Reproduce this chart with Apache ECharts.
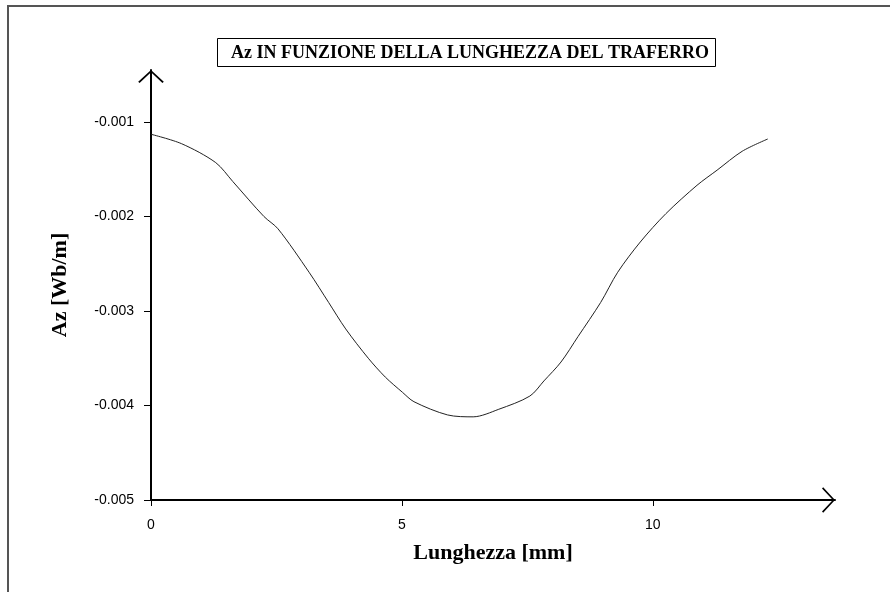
<!DOCTYPE html>
<html lang="it">
<head>
    <meta charset="UTF-8">
    <title>Az in funzione della lunghezza del traferro</title>
    <style>
        html, body { margin: 0; padding: 0; background: #fff; }
    </style>
</head>
<body>
<div id="main" style="width:890px;height:592px"></div>
<script src="https://cdn.jsdelivr.net/npm/echarts@6/dist/echarts.min.js"></script>
<script>
    // lunghezza [mm] e potenziale vettore Az [Wb/m]
    var lunghezza = [0, 0.61, 1.29, 1.63, 2.25, 2.53, 3.15, 3.54, 3.88, 4.33, 4.67, 5.01, 5.24,
        5.91, 6.42, 6.93, 7.55, 7.83, 8.17, 8.51, 8.96, 9.30, 9.75, 10.26, 10.88, 11.28, 11.78, 12.29];
    var az = [-0.00113, -0.00123, -0.00143, -0.00163, -0.00200, -0.00213, -0.00259, -0.00291,
        -0.00319, -0.00350, -0.00370, -0.00386, -0.00396, -0.00410, -0.00412, -0.00404,
        -0.00390, -0.00374, -0.00354, -0.00327, -0.00291, -0.00259, -0.00227, -0.00197,
        -0.00167, -0.00151, -0.00131, -0.00118];
    var xTicks = [0, 5, 10];
    var yTicks = [-0.005, -0.004, -0.003, -0.002, -0.001];

    var punti = [];
    for (var i = 0; i < lunghezza.length; i++) {
        punti.push([lunghezza[i], az[i]]);
    }

    // freccia aperta (a V) usata come simbolo di fine asse
    var freccia = 'path://M13,0 L26,12 L24.6,13.2 L13,2.2 L1.4,13.2 L0,12 Z';

    var myChart = echarts.init(document.getElementById('main'));
    myChart.setOption({
        backgroundColor: '#fff',
        animation: false,
        title: {
            text: 'Az IN FUNZIONE DELLA LUNGHEZZA DEL TRAFERRO',
            left: 217,
            top: 38,
            padding: [6, 7, 5, 14],
            borderColor: '#000',
            borderWidth: 1,
            textStyle: {
                fontFamily: 'Liberation Serif',
                fontSize: 18,
                fontWeight: 'bold',
                color: '#000'
            }
        },
        graphic: [{
            type: 'polyline',
            shape: { points: [[8, 600], [8, 6], [900, 6]] },
            style: { stroke: '#555', lineWidth: 2, fill: null },
            silent: true
        }],
        grid: {
            left: 151,
            top: 70,
            right: 55,
            bottom: 92
        },
        xAxis: {
            type: 'value',
            min: 0,
            max: 13.63,
            name: 'Lunghezza [mm]',
            nameLocation: 'middle',
            nameGap: 42,
            nameTextStyle: {
                fontFamily: 'Liberation Serif',
                fontSize: 22,
                fontWeight: 'bold',
                color: '#000'
            },
            axisLine: {
                onZero: false,
                symbol: ['none', freccia],
                symbolSize: [26, 13],
                symbolOffset: [0, -6.5],
                lineStyle: { color: '#000', width: 2 }
            },
            axisTick: {
                customValues: xTicks,
                length: 6,
                lineStyle: { color: '#000', width: 1 }
            },
            axisLabel: {
                customValues: xTicks,
                margin: 18,
                fontFamily: 'Liberation Sans',
                fontSize: 14,
                color: '#000'
            },
            splitLine: { show: false }
        },
        yAxis: {
            type: 'value',
            min: -0.005,
            max: -0.00045,
            name: 'Az [Wb/m]',
            nameLocation: 'middle',
            nameRotate: 90,
            nameGap: 80,
            nameTextStyle: {
                fontFamily: 'Liberation Serif',
                fontSize: 22,
                fontWeight: 'bold',
                color: '#000'
            },
            axisLine: {
                onZero: false,
                symbol: ['none', freccia],
                symbolSize: [26, 13],
                symbolOffset: [0, -6.5],
                lineStyle: { color: '#000', width: 2 }
            },
            axisTick: {
                customValues: yTicks,
                length: 7,
                lineStyle: { color: '#000', width: 1 }
            },
            axisLabel: {
                customValues: yTicks,
                margin: 17,
                fontFamily: 'Liberation Sans',
                fontSize: 14,
                color: '#000',
                formatter: function (v) { return v.toFixed(3); }
            },
            splitLine: { show: false }
        },
        series: [{
            type: 'line',
            data: punti,
            smooth: 0.3,
            showSymbol: false,
            lineStyle: { color: '#222', width: 1 }
        }]
    });
</script>
</body>
</html>
